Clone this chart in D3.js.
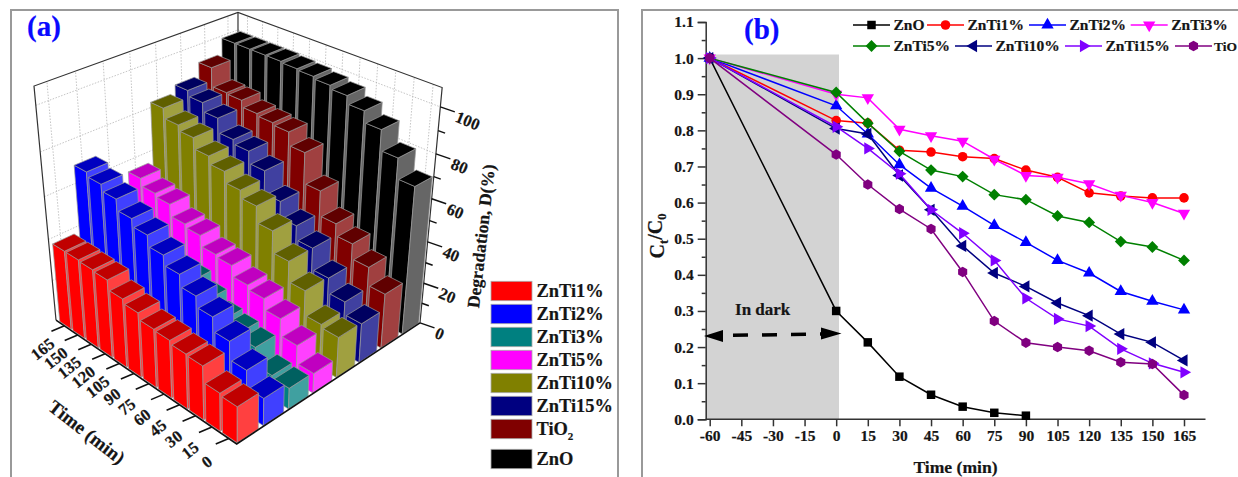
<!doctype html>
<html lang="en">
<head>
  <title>Degradation of ZnTi samples</title>
  <meta charset="utf-8">
  <script src="https://d3js.org/d3.v7.min.js"></script>
  <style>
    body { margin: 0; background: #fff; }
    svg { display: block; }
    text { font-family: "Liberation Serif", serif; font-weight: bold; fill: #151515; stroke: #151515; stroke-width: 0.2px; }
  </style>
</head>

<body>
<svg id="chart" width="1238" height="477"></svg>

<script>
  // ---- panel (a) data, degradation in %
  var barTimes = [0, 15, 30, 45, 60, 75, 90, 105, 120, 135, 150, 165];
  var barSeries = ["ZnTi1%", "ZnTi2%", "ZnTi3%", "ZnTi5%", "ZnTi10%", "ZnTi15%", "TiO2", "ZnO"];
  var barZnTi1  = [17, 18, 25.5, 26, 27.5, 28, 31, 33, 37.5, 38, 38.5, 38.5];
  var barZnTi2  = [13, 21, 29.5, 36, 41, 46.5, 51, 56, 59.5, 64.5, 67.5, 69.5];
  var barZnTi3  = [10, 11, 19.5, 21.5, 23, 28, 32.5, 33, 35, 38, 40, 43];
  var barZnTi5  = [9.5, 18, 26, 31, 33, 38, 39, 44, 45.5, 51, 52.5, 56];
  var barZnTi10 = [19.5, 21, 32.5, 42, 52, 59.5, 63, 68, 71.5, 76.5, 79, 83.5];
  var barZnTi15 = [19, 25, 32, 42, 48.5, 56, 66.5, 72, 74, 80.5, 84.5, 87];
  var barTiO2   = [26.5, 35, 42, 47.5, 59, 73, 79, 80, 81, 84, 84.5, 93];
  var barZnO    = [70, 79, 88, 93, 96.5, 98, 99, 99.5, 100, 100, 100, 100];
  var barValues = [barZnTi1, barZnTi2, barZnTi3, barZnTi5, barZnTi10, barZnTi15, barTiO2, barZnO];

  var sideColors  = ["#ff0000", "#0000ff", "#008080", "#ff00ff", "#808000", "#000080", "#800000", "#000000"];
  var frontColors = ["#ff4040", "#4040ff", "#40a0a0", "#ff40ff", "#a0a040", "#4040a0", "#a04040", "#666666"];
  var topColors   = ["#c00000", "#0000c0", "#006060", "#c000c0", "#606000", "#000060", "#600000", "#000000"];

  // ---- panel (b) data, Ct/C0
  var lineTimes = [-60, 0, 15, 30, 45, 60, 75, 90, 105, 120, 135, 150, 165];
  var lineZnO   = [1, 0.30, 0.213, 0.118, 0.068, 0.035, 0.018, 0.01];
  var lineZnTi1 = [1, 0.827, 0.82, 0.745, 0.74, 0.727, 0.722, 0.69, 0.67, 0.627, 0.618, 0.613, 0.613];
  var lineZnTi2 = [1, 0.868, 0.79, 0.705, 0.64, 0.59, 0.537, 0.49, 0.44, 0.405, 0.354, 0.327, 0.303];
  var lineZnTi3 = [1, 0.90, 0.89, 0.803, 0.785, 0.77, 0.72, 0.675, 0.67, 0.652, 0.62, 0.60, 0.57];
  var lineZnTi5 = [1, 0.905, 0.82, 0.742, 0.69, 0.672, 0.622, 0.608, 0.563, 0.545, 0.492, 0.477, 0.44];
  var lineZnTi10 = [1, 0.805, 0.79, 0.675, 0.58, 0.48, 0.405, 0.368, 0.322, 0.287, 0.236, 0.213, 0.163];
  var lineZnTi15 = [1, 0.81, 0.75, 0.68, 0.58, 0.515, 0.44, 0.335, 0.278, 0.258, 0.195, 0.155, 0.13];
  var lineTiO2  = [1, 0.733, 0.65, 0.582, 0.527, 0.408, 0.272, 0.212, 0.2, 0.19, 0.158, 0.153, 0.067];
  var lineValues = [lineZnO, lineZnTi1, lineZnTi2, lineZnTi3, lineZnTi5, lineZnTi10, lineZnTi15, lineTiO2];
  var lineNames  = ["ZnO", "ZnTi1%", "ZnTi2%", "ZnTi3%", "ZnTi5%", "ZnTi10%", "ZnTi15%", "TiO"];
  var lineColors = ["#000000", "#ff0000", "#0000ff", "#ff00ff", "#008000", "#000080", "#8000ff", "#800080"];

  var svg = d3.select("#chart");

  // panel frames run off the bottom of the picture
  svg.append("path").attr("d", "M11,477V10H618V477").attr("fill", "none").attr("stroke", "#999").attr("stroke-width", 2);
  svg.append("path").attr("d", "M642,477V10H1238").attr("fill", "none").attr("stroke", "#999").attr("stroke-width", 2);

  // ---------------------------------------------------------------- panel (a)
  var a = svg.append("g");

  // box corners on screen, the rest of the camera follows from these
  var cFront = [236.7, 444], cRight = [420, 323], cLeft = [56, 320], cTopLeft = [34, 86];
  var vpU = [1674, -506], vpV = [-1122, -488], vpW = [238, 2256];

  var ku = (cRight[0] - cFront[0]) / (vpU[0] - cRight[0]);
  var kv = (cLeft[0] - cFront[0]) / (vpV[0] - cLeft[0]);
  var kw = (1 + kv) * (cTopLeft[1] - cLeft[1]) / (vpW[1] - cTopLeft[1]);

  function project(u, v, w) {
    var d = 1 + ku * u + kv * v + kw * w;
    return [
      (cFront[0] + ku * u * vpU[0] + kv * v * vpV[0] + kw * w * vpW[0]) / d,
      (cFront[1] + ku * u * vpU[1] + kv * v * vpV[1] + kw * w * vpW[1]) / d
    ];
  }

  var uScale = d3.scaleBand().domain(barSeries).range([0, 1]).paddingInner(0.2).paddingOuter(0.04);
  var vScale = d3.scaleBand().domain(barTimes).range([0, 0.985]).paddingInner(0.13).paddingOuter(0.03);
  var wScale = d3.scaleLinear().domain([0, 108]).range([0, 1]);

  var poly = d3.line().curve(d3.curveLinearClosed);
  var seg = d3.line();

  // back walls and floor
  var corners = [[0, 0], [1, 0], [1, 1], [0, 1]];
  a.append("path").attr("d", poly(corners.map(function(c) { return project(c[0], c[1], 0); }))).attr("fill", "#fff");

  var grid = a.append("g").attr("fill", "none").attr("stroke", "#b5b5b5").attr("stroke-width", 0.8).attr("stroke-dasharray", "1.5,1.5");
  wScale.ticks(6).filter(function(z) { return z > 0 && z <= 100; }).forEach(function(z) {
    grid.append("path").attr("d", seg([project(0, 1, wScale(z)), project(1, 1, wScale(z)), project(1, 0, wScale(z))]));
  });
  barSeries.forEach(function(s) {
    var u = uScale(s) + uScale.bandwidth() / 2;
    grid.append("path").attr("d", seg([project(u, 1, 0), project(u, 1, 1)]));
  });
  barTimes.forEach(function(t) {
    var v = vScale(t) + vScale.bandwidth() / 2;
    grid.append("path").attr("d", seg([project(1, v, 0), project(1, v, 1)]));
  });

  // wall outline
  a.append("path")
    .attr("d", seg([project(0, 1, 0), project(0, 1, 1), project(1, 1, 1), project(1, 0, 1), project(1, 0, 0)]))
    .attr("fill", "none").attr("stroke", "#333").attr("stroke-width", 1.2);
  a.append("path")
    .attr("d", seg([project(1, 1, 0), project(1, 1, 1)]))
    .attr("fill", "none").attr("stroke", "#333").attr("stroke-width", 1.2);

  // bars, back to front so the near ones cover the far ones
  var bars = [];
  d3.range(barSeries.length - 1, -1, -1).forEach(function(i) {
    d3.range(barTimes.length - 1, -1, -1).forEach(function(j) {
      bars.push({ i: i, u: uScale(barSeries[i]), v: vScale(barTimes[j]), value: barValues[i][j] });
    });
  });

  var bar = a.append("g").selectAll("g").data(bars).enter().append("g")
    .attr("stroke", "#9a9a9a").attr("stroke-width", 0.7).attr("stroke-linejoin", "round");
  var du = uScale.bandwidth(), dv = vScale.bandwidth();

  bar.append("path") // side facing the time axis
    .attr("d", function(d) {
      var h = wScale(d.value);
      return poly([project(d.u, d.v, 0), project(d.u, d.v + dv, 0), project(d.u, d.v + dv, h), project(d.u, d.v, h)]);
    })
    .attr("fill", function(d) { return sideColors[d.i]; });
  bar.append("path") // side facing the front
    .attr("d", function(d) {
      var h = wScale(d.value);
      return poly([project(d.u, d.v, 0), project(d.u + du, d.v, 0), project(d.u + du, d.v, h), project(d.u, d.v, h)]);
    })
    .attr("fill", function(d) { return frontColors[d.i]; });
  bar.append("path")
    .attr("d", function(d) {
      var h = wScale(d.value);
      return poly([project(d.u, d.v, h), project(d.u + du, d.v, h), project(d.u + du, d.v + dv, h), project(d.u, d.v + dv, h)]);
    })
    .attr("fill", function(d) { return topColors[d.i]; });

  // floor edges on top
  a.append("path")
    .attr("d", seg([project(0, 1, 0), project(0, 0, 0), project(1, 0, 0)]))
    .attr("fill", "none").attr("stroke", "#111").attr("stroke-width", 1.6);

  // time axis
  barTimes.forEach(function(t) {
    var p = project(0, vScale(t) + vScale.bandwidth() / 2, 0);
    a.append("line").attr("x1", p[0]).attr("y1", p[1]).attr("x2", p[0] - 13).attr("y2", p[1] + 5.5)
      .attr("stroke", "#111").attr("stroke-width", 1.6);
    a.append("text").attr("transform", "translate(" + (p[0] - 22) + "," + (p[1] + 23) + ") rotate(-38)")
      .attr("text-anchor", "middle").attr("dy", "0.35em").style("font-size", "16.5px").text(t);
  });
  a.append("text").attr("transform", "translate(87,432) rotate(38)")
    .attr("text-anchor", "middle").attr("dy", "0.35em").style("font-size", "19px").text("Time (min)");

  // degradation axis
  d3.range(0, 101, 10).forEach(function(z) {
    var p = project(1, 0, wScale(z));
    var major = z % 20 === 0;
    a.append("line").attr("x1", p[0]).attr("y1", p[1])
      .attr("x2", p[0] + (major ? 14.5 : 7)).attr("y2", p[1] + (major ? 5 : 2.5))
      .attr("stroke", "#111").attr("stroke-width", 1.5);
    if (major) {
      a.append("text").attr("transform", "translate(" + (p[0] + 16) + "," + (p[1] + 9) + ") rotate(22)")
        .attr("dy", "0.35em").style("font-size", "16.5px").text(z);
    }
  });
  a.append("text").attr("transform", "translate(481,236) rotate(-83.6)")
    .attr("text-anchor", "middle").attr("dy", "0.35em").style("font-size", "17.6px").text("Degradation, D(%)");

  a.append("text").attr("x", 27).attr("y", 36).style("font-size", "29px").style("fill", "#0a0aff").style("stroke", "#0a0aff").text("(a)");

  // bar legend, the last two entries sit a little further apart
  var legendRow = d3.scaleLinear().domain([0, 6]).range([291, 429]);
  barSeries.forEach(function(s, i) {
    var cy = i < 7 ? legendRow(i) : 459;
    a.append("rect").attr("x", 491).attr("y", cy - 9.7).attr("width", 41).attr("height", 19.4)
      .attr("fill", sideColors[i]).attr("stroke", "#aaa").attr("stroke-width", 0.8);
    var label = a.append("text").attr("x", 536.5).attr("y", cy).attr("dy", "0.35em").style("font-size", "18.4px");
    if (s === "TiO2") {
      label.append("tspan").text("TiO");
      label.append("tspan").attr("dy", "0.45em").style("font-size", "11px").text("2");
    } else {
      label.text(s);
    }
  });

  // ---------------------------------------------------------------- panel (b)
  var b = svg.append("g");

  var xScale = d3.scaleLinear().domain([-60, 165]).range([709.7, 1184]);
  var yScale = d3.scaleLinear().domain([0, 1.1]).range([419.3, 22]);
  var axisX = 705.7, axisEnd = 1205.5;

  b.append("rect").attr("x", axisX).attr("y", yScale(1.01)).attr("width", 133.3)
    .attr("height", yScale(0) - yScale(1.01)).attr("fill", "#d3d3d3");

  var xAxis = d3.axisBottom(xScale).tickValues(d3.range(-60, 166, 15)).tickFormat(String).tickSize(7).tickPadding(4).tickSizeOuter(0);
  var yAxis = d3.axisLeft(yScale).tickValues(d3.range(0, 1.101, 0.1)).tickFormat(d3.format(".1f")).tickSize(8).tickPadding(4);

  var gx = b.append("g").attr("transform", "translate(0," + yScale(0) + ")").call(xAxis);
  gx.select(".domain").attr("d", "M" + axisX + ",0H" + axisEnd);
  var gy = b.append("g").attr("transform", "translate(" + axisX + ",0)").call(yAxis);
  b.append("g").attr("transform", "translate(" + axisX + ",0)")
    .call(d3.axisLeft(yScale).tickValues(d3.range(0.05, 1.1, 0.1)).tickFormat("").tickSize(4))
    .select(".domain").remove();

  b.selectAll(".domain, .tick line").attr("stroke", "#333").attr("stroke-width", 1.5);
  b.selectAll(".tick text").style("font-size", "15.5px");
  b.selectAll("g").attr("font-family", null);

  b.append("text").attr("transform", "translate(657,236) rotate(-90)").attr("text-anchor", "middle")
    .attr("dy", "0.35em").style("font-size", "20px")
    .html('C<tspan dy="0.3em" style="font-size:12.5px">t</tspan><tspan dy="-0.3em">/C</tspan><tspan dy="0.3em" style="font-size:12.5px">0</tspan>');
  b.append("text").attr("x", 955.5).attr("y", 467).attr("text-anchor", "middle").attr("dy", "0.35em")
    .style("font-size", "17.6px").text("Time (min)");
  b.append("text").attr("x", 744).attr("y", 39).style("font-size", "29px").style("fill", "#0a0aff").style("stroke", "#0a0aff").text("(b)");

  // in dark note with its dashed double arrow
  b.append("text").attr("x", 762.7).attr("y", 309).attr("text-anchor", "middle").attr("dy", "0.35em")
    .style("font-size", "17px").text("In dark");
  b.append("path").attr("d", "M733,335.3L824,334").attr("stroke", "#000").attr("stroke-width", 3.5)
    .attr("stroke-dasharray", "15,14").attr("fill", "none");
  b.append("path").attr("d", "M704,336L723,330L723,342Z").attr("fill", "#000");
  b.append("path").attr("d", "M841.5,333.5L821,327.5L821,339.5Z").attr("fill", "#000");

  // marker shapes
  var hexagon = {
    draw: function(ctx, size) {
      var r = Math.sqrt(size / 2.598);
      for (var k = 0; k < 6; k++) {
        var ang = Math.PI / 3 * k - Math.PI / 2;
        if (k === 0) ctx.moveTo(r * Math.cos(ang), r * Math.sin(ang));
        else ctx.lineTo(r * Math.cos(ang), r * Math.sin(ang));
      }
      ctx.closePath();
    }
  };
  var markers = [
    { type: d3.symbolSquare, size: 72, rotate: 0 },
    { type: d3.symbolCircle, size: 72, rotate: 0 },
    { type: d3.symbolTriangle, size: 66, rotate: 0 },
    { type: d3.symbolTriangle, size: 66, rotate: 180 },
    { type: d3.symbolSquare, size: 70, rotate: 45 },
    { type: d3.symbolTriangle, size: 66, rotate: -90 },
    { type: d3.symbolTriangle, size: 66, rotate: 90 },
    { type: hexagon, size: 72, rotate: 0 }
  ];
  function markerAt(g, i, x, y) {
    g.append("path")
      .attr("d", d3.symbol().type(markers[i].type).size(markers[i].size)())
      .attr("transform", "translate(" + x + "," + y + ") rotate(" + markers[i].rotate + ")")
      .attr("fill", lineColors[i]);
  }

  var line = d3.line()
    .x(function(d, k) { return xScale(lineTimes[k]); })
    .y(function(d) { return yScale(d); });

  lineValues.forEach(function(vals, i) {
    b.append("path").attr("d", line(vals)).attr("fill", "none")
      .attr("stroke", lineColors[i]).attr("stroke-width", 1.5);
    vals.forEach(function(v, k) {
      markerAt(b, i, xScale(lineTimes[k]), yScale(v));
    });
  });

  // line legend, two rows; the last label sits tight against the picture edge
  var legendLineStart = [853, 927, 1029, 1130.7, 853, 955, 1065, 1175];
  lineNames.forEach(function(name, i) {
    var x0 = legendLineStart[i], cy = i < 4 ? 25 : 46;
    var last = i === lineNames.length - 1;
    b.append("line").attr("x1", x0).attr("x2", x0 + 37).attr("y1", cy).attr("y2", cy)
      .attr("stroke", lineColors[i]).attr("stroke-width", 1.5);
    markerAt(b, i, x0 + 18.5, cy);
    b.append("text").attr("x", x0 + (last ? 39 : 40.5)).attr("y", cy).attr("dy", "0.35em")
      .style("font-size", last ? "13.5px" : "15.5px").text(name);
  });
</script>
</body>
</html>
